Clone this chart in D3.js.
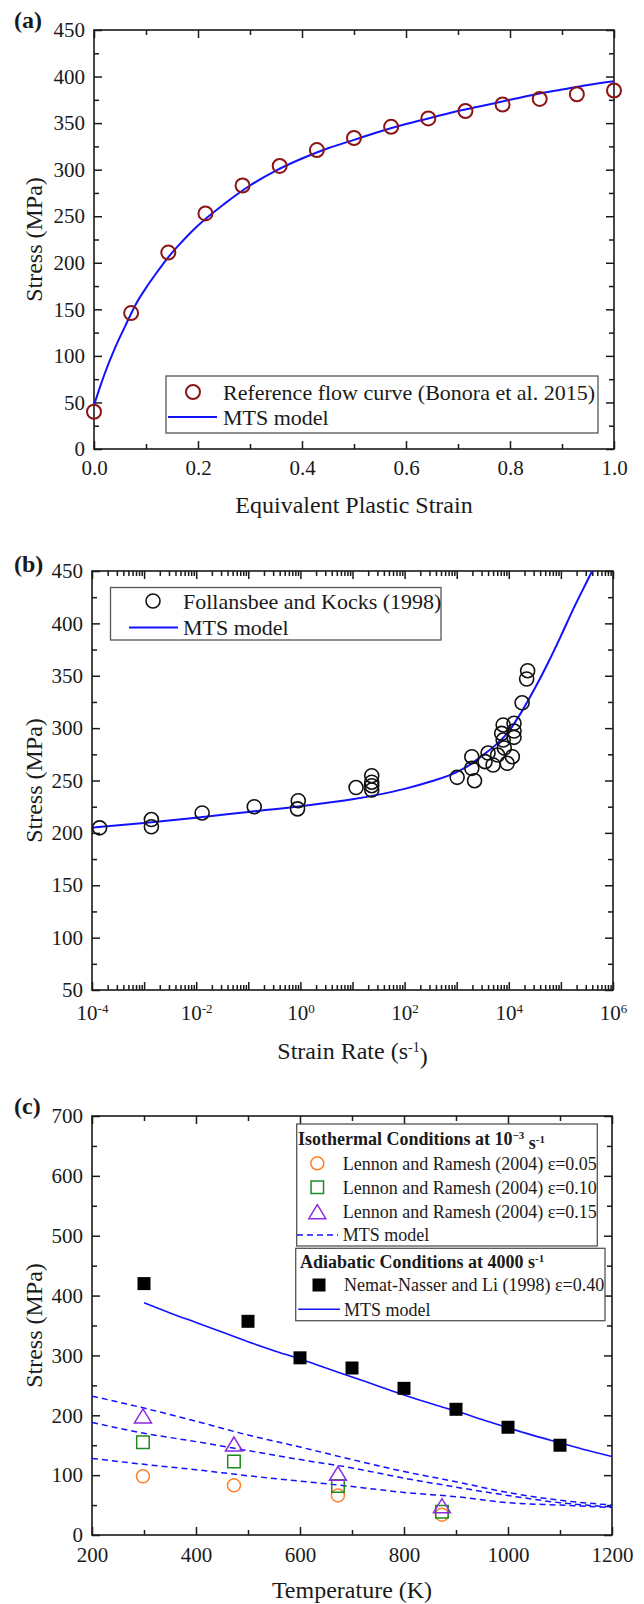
<!DOCTYPE html>
<html>
<head>
<meta charset="utf-8">
<script src="https://d3js.org/d3.v7.min.js"></script>
<style>
  html, body { margin: 0; padding: 0; background: #fff; }
  svg { display: block; }
  svg text { font-family: "Liberation Serif", "Times New Roman", "DejaVu Serif", serif; }
</style>
</head>
<body>
<svg id="fig" width="644" height="1604"></svg>
<script>
// ---------- (a) flow curve ----------
const strainA = [0, 0.0714, 0.1429, 0.2143, 0.2857, 0.3571, 0.4286, 0.5, 0.5714, 0.6429, 0.7143, 0.7857, 0.8571, 0.9286, 1.0];
const stressA = [40, 146, 211, 253, 283, 304, 321, 334, 346, 355, 363, 370, 376, 381, 385];
const mtsStrainA = [0, 0.01, 0.02, 0.04, 0.06, 0.08, 0.1, 0.12, 0.14, 0.16, 0.18, 0.2, 0.25, 0.3, 0.35, 0.4, 0.45, 0.5, 0.55, 0.6, 0.65, 0.7, 0.75, 0.8, 0.85, 0.9, 0.95, 1.0];
const mtsStressA = [47, 64, 80, 108, 132, 155, 173, 189, 204, 217, 229, 240, 263, 283, 299, 312, 323, 332, 341, 349, 356, 363, 369, 375, 381, 386, 391, 395];
const xTicksA = [0, 0.2, 0.4, 0.6, 0.8, 1.0];
const yTicksA = [0, 50, 100, 150, 200, 250, 300, 350, 400, 450];

// ---------- (b) strain-rate dependence ----------
const rateB = [1.4e-4, 1.38e-3, 1.38e-3, 0.013, 0.13, 0.91, 0.88, 11.7, 23.4, 23.4, 23.4, 23.4,
               1020, 1950, 1950, 2200, 3500, 4000, 5000, 6100, 7300, 7800, 7800, 8200, 9300,
               11700, 12600, 12600, 12600, 18000, 22000, 23000];
const stressB = [204.8, 212.7, 205.8, 219, 225, 230.7, 222.9, 243.3, 254.6, 248.4, 245, 240.9,
                 253, 272.7, 261.6, 249.8, 268, 276.2, 264.8, 274.3, 295, 303, 288.6, 281, 266.4,
                 272.7, 304.6, 297.2, 291.2, 324.2, 346.9, 354.8];
const mtsRateB = [1e-4, 1e-3, 1e-2, 1e-1, 1, 10, 31.6, 100, 316, 1000, 1780, 3160, 5620, 1e4, 1.78e4, 3.16e4, 5.62e4, 1e5, 1.78e5, 3.16e5, 5.01e5];
const mtsStressB = [205, 209.5, 214.5, 220, 225.5, 232, 236.5, 242, 249, 258, 265, 274, 284, 297, 316, 338, 362, 388, 415, 440, 460];
const xTicksB = [1e-4, 1e-3, 1e-2, 1e-1, 1, 10, 100, 1e3, 1e4, 1e5, 1e6];
const yTicksB = [50, 100, 150, 200, 250, 300, 350, 400, 450];

// ---------- (c) temperature dependence ----------
const tempLR = [298, 473, 673, 873];
const lr005 = [98, 83, 66, 34];
const lr010 = [155, 123, 82, 39];
const lr015 = [199, 152, 103, 49];
const tempNN = [300, 500, 600, 700, 800, 900, 1000, 1100];
const nn040 = [420, 357, 296, 279, 245, 210, 180, 150];
const tempIso = [200, 300, 400, 500, 600, 700, 800, 900, 1000, 1100, 1200];
const mtsIso005 = [128, 118, 109, 99, 90, 81, 71, 64, 54, 50, 46];
const mtsIso010 = [188, 170, 156, 141, 126, 112, 95, 80, 66, 54, 47];
const mtsIso015 = [232, 212, 190, 167, 147, 126, 106, 89, 71, 58, 50];
const tempAd = [300, 350, 400, 450, 500, 550, 600, 650, 700, 750, 800, 850, 900, 950, 1000, 1050, 1100, 1150, 1200];
const mtsAd = [388, 371, 355, 339, 323, 308, 294, 279, 264, 249, 234, 220, 207, 193, 179, 166, 154, 142, 131];
const xTicksC = [200, 400, 600, 800, 1000, 1200];
const yTicksC = [0, 100, 200, 300, 400, 500, 600, 700];

const svg = d3.select("#fig");
const BLUE = "#1212ff", INK = "#1a1a1a";
const SERIF = "'Liberation Serif', 'Times New Roman', 'DejaVu Serif', serif";
const blank = () => "";

function tickAxis(g, axisFn, scale, vals, size, fmt, pad, tr) {
  const a = axisFn(scale).tickValues(vals).tickSizeInner(-size).tickSizeOuter(0)
    .tickPadding(pad).tickFormat(fmt);
  const s = g.append("g").attr("transform", tr).call(a)
    .attr("font-family", SERIF).attr("font-size", 21);
  s.select(".domain").remove();
  s.selectAll(".tick line").attr("stroke", INK).attr("stroke-width", 1.5);
  s.selectAll(".tick text").attr("fill", INK).attr("font-size", 21).attr("font-family", SERIF);
  return s;
}

function frame(g, x, y, o) {
  const [xa, xb] = x.range(), [ya, yb] = y.range();
  const bx = tickAxis(g, d3.axisBottom, x, o.xMajor, 8, o.xFmt, o.xPad, `translate(0,${ya})`);
  tickAxis(g, d3.axisBottom, x, o.xMinor, 5, blank, 0, `translate(0,${ya})`);
  tickAxis(g, d3.axisTop, x, o.xMajor, 8, blank, 0, `translate(0,${yb})`);
  tickAxis(g, d3.axisTop, x, o.xMinor, 5, blank, 0, `translate(0,${yb})`);
  tickAxis(g, d3.axisLeft, y, o.yMajor, 8, d3.format("d"), 9, `translate(${xa},0)`);
  tickAxis(g, d3.axisLeft, y, o.yMinor, 5, blank, 0, `translate(${xa},0)`);
  tickAxis(g, d3.axisRight, y, o.yMajor, 8, blank, 0, `translate(${xb},0)`);
  tickAxis(g, d3.axisRight, y, o.yMinor, 5, blank, 0, `translate(${xb},0)`);
  g.append("rect").attr("x", xa).attr("y", yb).attr("width", xb - xa).attr("height", ya - yb)
    .attr("fill", "none").attr("stroke", INK).attr("stroke-width", 1.6);
  // axis titles and panel tag
  g.append("text").attr("x", (xa + xb) / 2).attr("y", o.xTitleY).attr("text-anchor", "middle")
    .attr("font-size", 24).attr("font-family", SERIF).attr("fill", INK).call(o.xTitle);
  g.append("text").attr("transform", `translate(42,${(ya + yb) / 2}) rotate(-90)`)
    .attr("text-anchor", "middle").attr("font-size", 24).attr("font-family", SERIF)
    .attr("fill", INK).text("Stress (MPa)");
  g.append("text").attr("x", 14).attr("y", o.tagY).attr("font-size", 24).attr("font-weight", "bold")
    .attr("font-family", SERIF).attr("fill", INK).text(o.tag);
  return bx;
}

function clipTo(g, id, x, y) {
  const [xa, xb] = x.range(), [ya, yb] = y.range();
  g.append("clipPath").attr("id", id).append("rect")
    .attr("x", xa).attr("y", yb).attr("width", xb - xa).attr("height", ya - yb);
  return g.append("g").attr("clip-path", `url(#${id})`);
}

function range(a, b, s) { const r = []; for (let v = a; v <= b + 1e-9; v += s) r.push(+v.toFixed(6)); return r; }

function label(L, xx, yy, size, bold) {
  return L.append("text").attr("x", xx).attr("y", yy).attr("dy", "0.35em")
    .attr("font-size", size).attr("font-family", SERIF)
    .attr("font-weight", bold ? "bold" : null).attr("fill", INK);
}

// ================= Panel (a) =================
{
  const g = svg.append("g");
  const x = d3.scaleLinear().domain([0, 1]).range([94, 614]);
  const y = d3.scaleLinear().domain([0, 450]).range([449, 30]);
  frame(g, x, y, {
    xMajor: xTicksA, xMinor: range(0.1, 0.9, 0.2), yMajor: yTicksA, yMinor: range(25, 425, 50),
    xFmt: d3.format(".1f"), xPad: 11, xTitleY: 513, tag: "(a)", tagY: 28,
    xTitle: t => t.text("Equivalent Plastic Strain")
  });
  const c = clipTo(g, "clipA", x, y);
  const line = d3.line().x(d => x(d[0])).y(d => y(d[1])).curve(d3.curveMonotoneX);
  c.append("path").datum(d3.zip(mtsStrainA, mtsStressA)).attr("d", line)
    .attr("fill", "none").attr("stroke", BLUE).attr("stroke-width", 2);
  g.append("g").selectAll("circle").data(d3.zip(strainA, stressA)).join("circle")
    .attr("cx", d => x(d[0])).attr("cy", d => y(d[1])).attr("r", 7)
    .attr("fill", "none").attr("stroke", "#8c1414").attr("stroke-width", 2);
  // legend
  const L = g.append("g");
  L.append("rect").attr("x", 166).attr("y", 376).attr("width", 432).attr("height", 57)
    .attr("fill", "#fff").attr("stroke", "#555").attr("stroke-width", 1.3);
  L.append("circle").attr("cx", 193).attr("cy", 392).attr("r", 7)
    .attr("fill", "none").attr("stroke", "#8c1414").attr("stroke-width", 2);
  L.append("line").attr("x1", 168).attr("x2", 217).attr("y1", 417).attr("y2", 417)
    .attr("stroke", BLUE).attr("stroke-width", 2);
  label(L, 223, 392, 22).text("Reference flow curve (Bonora et al. 2015)");
  label(L, 223, 417, 22).text("MTS model");
}

// ================= Panel (b) =================
{
  const g = svg.append("g");
  const x = d3.scaleLog().domain([1e-4, 1e6]).range([92, 613]);
  const y = d3.scaleLinear().domain([50, 450]).range([990, 571]);
  const minor = [];
  for (let e = -4; e < 6; e++) for (let k = 2; k <= 9; k++) minor.push(k * Math.pow(10, e));
  const bx = frame(g, x, y, {
    xMajor: xTicksB, xMinor: minor, yMajor: yTicksB, yMinor: range(75, 425, 50),
    xFmt: d => d, xPad: 15, xTitleY: 1059, tag: "(b)", tagY: 572,
    xTitle: t => { t.append("tspan").text("Strain Rate (s");
                   t.append("tspan").attr("dy", "-0.5em").attr("font-size", 14).text("-1");
                   t.append("tspan").attr("dy", "0.5em").text(")"); }
  });
  bx.selectAll(".tick text").each(function (d) {
    const e = Math.round(Math.log10(d));
    const t = d3.select(this).text(null);
    if (e % 2 !== 0) return;
    t.append("tspan").text("10");
    t.append("tspan").attr("dy", "-0.55em").attr("font-size", 13).text(String(e));
  });
  const c = clipTo(g, "clipB", x, y);
  const line = d3.line().x(d => x(d[0])).y(d => y(d[1])).curve(d3.curveMonotoneX);
  c.append("path").datum(d3.zip(mtsRateB, mtsStressB)).attr("d", line)
    .attr("fill", "none").attr("stroke", BLUE).attr("stroke-width", 2);
  g.append("g").selectAll("circle").data(d3.zip(rateB, stressB)).join("circle")
    .attr("cx", d => x(d[0])).attr("cy", d => y(d[1])).attr("r", 7)
    .attr("fill", "none").attr("stroke", "#111").attr("stroke-width", 1.6);
  const L = g.append("g");
  L.append("rect").attr("x", 110.5).attr("y", 587.5).attr("width", 330.5).attr("height", 52.5)
    .attr("fill", "#fff").attr("stroke", "#555").attr("stroke-width", 1.3);
  L.append("circle").attr("cx", 153).attr("cy", 601).attr("r", 7)
    .attr("fill", "none").attr("stroke", "#111").attr("stroke-width", 1.6);
  L.append("line").attr("x1", 129).attr("x2", 178).attr("y1", 627.5).attr("y2", 627.5)
    .attr("stroke", BLUE).attr("stroke-width", 2);
  label(L, 183, 601, 22).text("Follansbee and Kocks (1998)");
  label(L, 183, 627.5, 22).text("MTS model");
}

// ================= Panel (c) =================
{
  const g = svg.append("g");
  const x = d3.scaleLinear().domain([200, 1200]).range([92, 612]);
  const y = d3.scaleLinear().domain([0, 700]).range([1535, 1116]);
  frame(g, x, y, {
    xMajor: xTicksC, xMinor: range(300, 1100, 200), yMajor: yTicksC, yMinor: range(50, 650, 100),
    xFmt: d3.format("d"), xPad: 12, xTitleY: 1598, tag: "(c)", tagY: 1114,
    xTitle: t => t.text("Temperature (K)")
  });
  const c = clipTo(g, "clipC", x, y);
  const line = d3.line().x(d => x(d[0])).y(d => y(d[1])).curve(d3.curveMonotoneX);
  [mtsIso005, mtsIso010, mtsIso015].forEach(s => {
    c.append("path").datum(d3.zip(tempIso, s)).attr("d", line)
      .attr("fill", "none").attr("stroke", BLUE).attr("stroke-width", 1.5).attr("stroke-dasharray", "6,4");
  });
  c.append("path").datum(d3.zip(tempAd, mtsAd)).attr("d", line)
    .attr("fill", "none").attr("stroke", BLUE).attr("stroke-width", 1.6);

  const ORANGE = "#ff8027", GREEN = "#1f8a1f", PURPLE = "#8a2be2";
  const tri = (w, h) => `M0,${-h / 2}L${w / 2},${h / 2}L${-w / 2},${h / 2}Z`;
  const sq = s => `M${-s / 2},${-s / 2}h${s}v${s}h${-s}Z`;
  const M = g.append("g");
  M.selectAll(".sqB").data(d3.zip(tempNN, nn040)).join("path").attr("class", "sqB")
    .attr("transform", d => `translate(${x(d[0])},${y(d[1])})`).attr("d", sq(13)).attr("fill", "#000");
  M.selectAll(".ci").data(d3.zip(tempLR, lr005)).join("circle").attr("class", "ci")
    .attr("cx", d => x(d[0])).attr("cy", d => y(d[1])).attr("r", 6.5)
    .attr("fill", "none").attr("stroke", ORANGE).attr("stroke-width", 1.5);
  M.selectAll(".sqG").data(d3.zip(tempLR, lr010)).join("path").attr("class", "sqG")
    .attr("transform", d => `translate(${x(d[0])},${y(d[1])})`).attr("d", sq(12.5))
    .attr("fill", "none").attr("stroke", GREEN).attr("stroke-width", 1.5);
  M.selectAll(".tr").data(d3.zip(tempLR, lr015)).join("path").attr("class", "tr")
    .attr("transform", d => `translate(${x(d[0])},${y(d[1])})`).attr("d", tri(17, 14))
    .attr("fill", "none").attr("stroke", PURPLE).attr("stroke-width", 1.5);

  // legends
  const L = g.append("g");
  L.append("rect").attr("x", 296.7).attr("y", 1124).attr("width", 300.6).attr("height", 122)
    .attr("fill", "#fff").attr("stroke", "#555").attr("stroke-width", 1.3);
  const t1 = label(L, 298, 1138.5, 18, true);
  t1.append("tspan").text("Isothermal Conditions at 10");
  t1.append("tspan").attr("dy", "-0.55em").attr("font-size", 11).text("\u22123");
  t1.append("tspan").attr("dy", "0.55em").text(" s");
  t1.append("tspan").attr("dy", "-0.55em").attr("font-size", 11).text("-1");
  L.append("circle").attr("cx", 317.3).attr("cy", 1163.3).attr("r", 6.5)
    .attr("fill", "none").attr("stroke", ORANGE).attr("stroke-width", 1.5);
  label(L, 342.7, 1163.3, 18).text("Lennon and Ramesh (2004) \u03b5=0.05");
  L.append("path").attr("transform", "translate(317.3,1187.3)").attr("d", sq(12.5))
    .attr("fill", "none").attr("stroke", GREEN).attr("stroke-width", 1.5);
  label(L, 342.7, 1187.3, 18).text("Lennon and Ramesh (2004) \u03b5=0.10");
  L.append("path").attr("transform", "translate(317.3,1211.7)").attr("d", tri(17, 14))
    .attr("fill", "none").attr("stroke", PURPLE).attr("stroke-width", 1.5);
  label(L, 342.7, 1211.7, 18).text("Lennon and Ramesh (2004) \u03b5=0.15");
  L.append("line").attr("x1", 297).attr("x2", 338).attr("y1", 1235).attr("y2", 1235)
    .attr("stroke", BLUE).attr("stroke-width", 1.5).attr("stroke-dasharray", "6,4");
  label(L, 342.7, 1235, 18).text("MTS model");

  L.append("rect").attr("x", 295.7).attr("y", 1248.3).attr("width", 309.3).attr("height", 72.4)
    .attr("fill", "#fff").attr("stroke", "#555").attr("stroke-width", 1.3);
  const t2 = label(L, 300, 1262, 18, true);
  t2.append("tspan").text("Adiabatic Conditions at 4000 s");
  t2.append("tspan").attr("dy", "-0.55em").attr("font-size", 11).text("-1");
  L.append("path").attr("transform", "translate(319,1285)").attr("d", sq(13)).attr("fill", "#000");
  label(L, 344, 1285, 18).text("Nemat-Nasser and Li (1998) \u03b5=0.40");
  L.append("line").attr("x1", 298.3).attr("x2", 340).attr("y1", 1309.3).attr("y2", 1309.3)
    .attr("stroke", BLUE).attr("stroke-width", 1.6);
  label(L, 344, 1309.3, 18).text("MTS model");
}
</script>
</body>
</html>
